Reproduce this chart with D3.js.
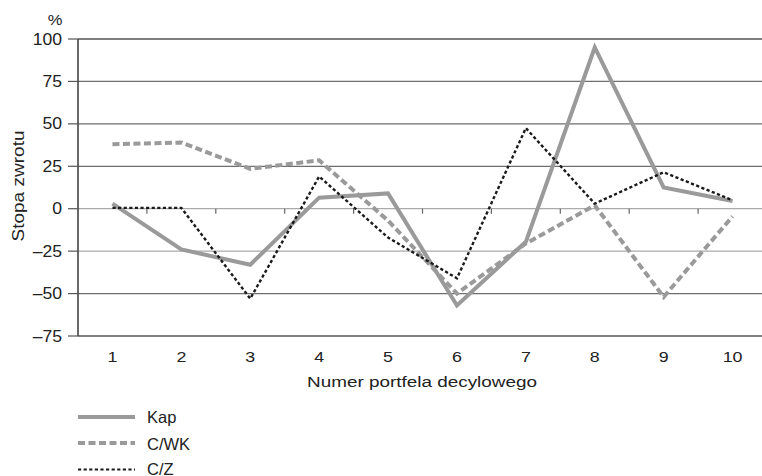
<!DOCTYPE html>
<html>
<head>
<meta charset="utf-8">
<script src="https://cdn.jsdelivr.net/npm/d3@7"></script>
<style>
  html, body { margin: 0; padding: 0; background: #fff; }
  svg { display: block; font-family: "Liberation Sans", Arial, Helvetica, sans-serif; }
</style>
</head>
<body>
<svg id="chart" width="762" height="476"></svg>
<script>
// Decile portfolio numbers
const categories = ["1", "2", "3", "4", "5", "6", "7", "8", "9", "10"];
// Rates of return (%) per portfolio
const kap  = [3, -24, -33, 6.5, 9, -57, -19.5, 95, 12.5, 4.5];
const cwk  = [38, 39, 23.5, 28.5, -7, -50, -20.5, 2, -52, -4.5];
const cz   = [0.5, 0.5, -53, 19, -17, -41, 47.5, 3, 21.5, 5];
const yTicks = [100, 75, 50, 25, 0, -25, -50, -75];
const seriesNames = ["Kap", "C/WK", "C/Z"];

const series = [
  { name: seriesNames[0], values: kap, color: "#9a9a9a", width: 4,   dash: null },
  { name: seriesNames[1], values: cwk, color: "#9a9a9a", width: 4,   dash: "7,3.5" },
  { name: seriesNames[2], values: cz,  color: "#1a1a1a", width: 2.4, dash: "3.2,2.4" }
];

const svg = d3.select("#chart");
const plotLeft = 78, plotRight = 767, plotTop = 39, plotBottom = 336;

const x = d3.scaleBand().domain(categories).range([plotLeft, plotRight]);
const y = d3.scaleLinear().domain([-75, 100]).range([plotBottom, plotTop]);

// helper for horizontally widened text
function label(g, tx, ty, text, size, anchor, sx) {
  return g.append("text")
    .attr("transform", `translate(${tx},${ty}) scale(${sx},1)`)
    .attr("text-anchor", anchor)
    .attr("font-size", size)
    .attr("fill", "#222")
    .text(text);
}

// horizontal gridlines
const grid = svg.append("g");
yTicks.forEach(v => {
  const light = (v === 0 || v === -25);
  grid.append("line")
    .attr("x1", plotLeft).attr("x2", 762)
    .attr("y1", y(v)).attr("y2", y(v))
    .attr("stroke", v === 100 || v === -75 ? "#555" : (light ? "#aaa" : "#6e6e6e"))
    .attr("stroke-width", v === 100 || v === -75 ? 1.6 : 1.2);
});

// category tick marks on the zero line
const bounds = categories.slice(1).map(c => x(c));
svg.append("g").selectAll("line").data(bounds).join("line")
  .attr("x1", d => d).attr("x2", d => d)
  .attr("y1", y(0)).attr("y2", y(0) + 5)
  .attr("stroke", "#666").attr("stroke-width", 1.2);

// left axis line and ticks
svg.append("line")
  .attr("x1", plotLeft).attr("x2", plotLeft).attr("y1", y(100)).attr("y2", y(-75))
  .attr("stroke", "#444").attr("stroke-width", 1.6);
const yl = svg.append("g");
yTicks.forEach(v => {
  yl.append("line")
    .attr("x1", 68).attr("x2", plotLeft)
    .attr("y1", y(v)).attr("y2", y(v))
    .attr("stroke", "#555").attr("stroke-width", 1.2);
  label(yl, 62, y(v) + 5.5, v < 0 ? "\u2013" + Math.abs(v) : String(v), 16, "end", 1.1);
});
label(svg, 55, 25, "%", 15, "middle", 1.1);

// y axis title
svg.append("text")
  .attr("transform", `translate(24,186) rotate(-90) scale(1.12,1)`)
  .attr("text-anchor", "middle")
  .attr("font-size", 17)
  .attr("fill", "#222")
  .text("Stopa zwrotu");

// x tick labels
const xl = svg.append("g");
categories.forEach(c => {
  label(xl, x(c) + x.bandwidth() / 2, 362, c, 15.5, "middle", 1.15);
});
label(svg, 422, 387, "Numer portfela decylowego", 15.5, "middle", 1.22);

// series lines
const line = d3.line()
  .x((d, i) => x(categories[i]) + x.bandwidth() / 2)
  .y(d => y(d));

series.forEach(s => {
  svg.append("path")
    .datum(s.values)
    .attr("d", line)
    .attr("fill", "none")
    .attr("stroke", s.color)
    .attr("stroke-width", s.width)
    .attr("stroke-dasharray", s.dash)
    .attr("stroke-linejoin", "miter");
});

// legend
const lg = svg.append("g");
const legendLineY = [417, 443, 469.5];
const legendTextY = [423, 450, 474.5];
series.forEach((s, i) => {
  lg.append("line")
    .attr("x1", 78).attr("x2", 135)
    .attr("y1", legendLineY[i]).attr("y2", legendLineY[i])
    .attr("stroke", s.color)
    .attr("stroke-width", i === 2 ? 2 : s.width)
    .attr("stroke-dasharray", s.dash);
  lg.append("text")
    .attr("x", 147).attr("y", legendTextY[i])
    .attr("font-size", 16.5)
    .attr("fill", "#222")
    .text(s.name);
});
</script>
</body>
</html>
